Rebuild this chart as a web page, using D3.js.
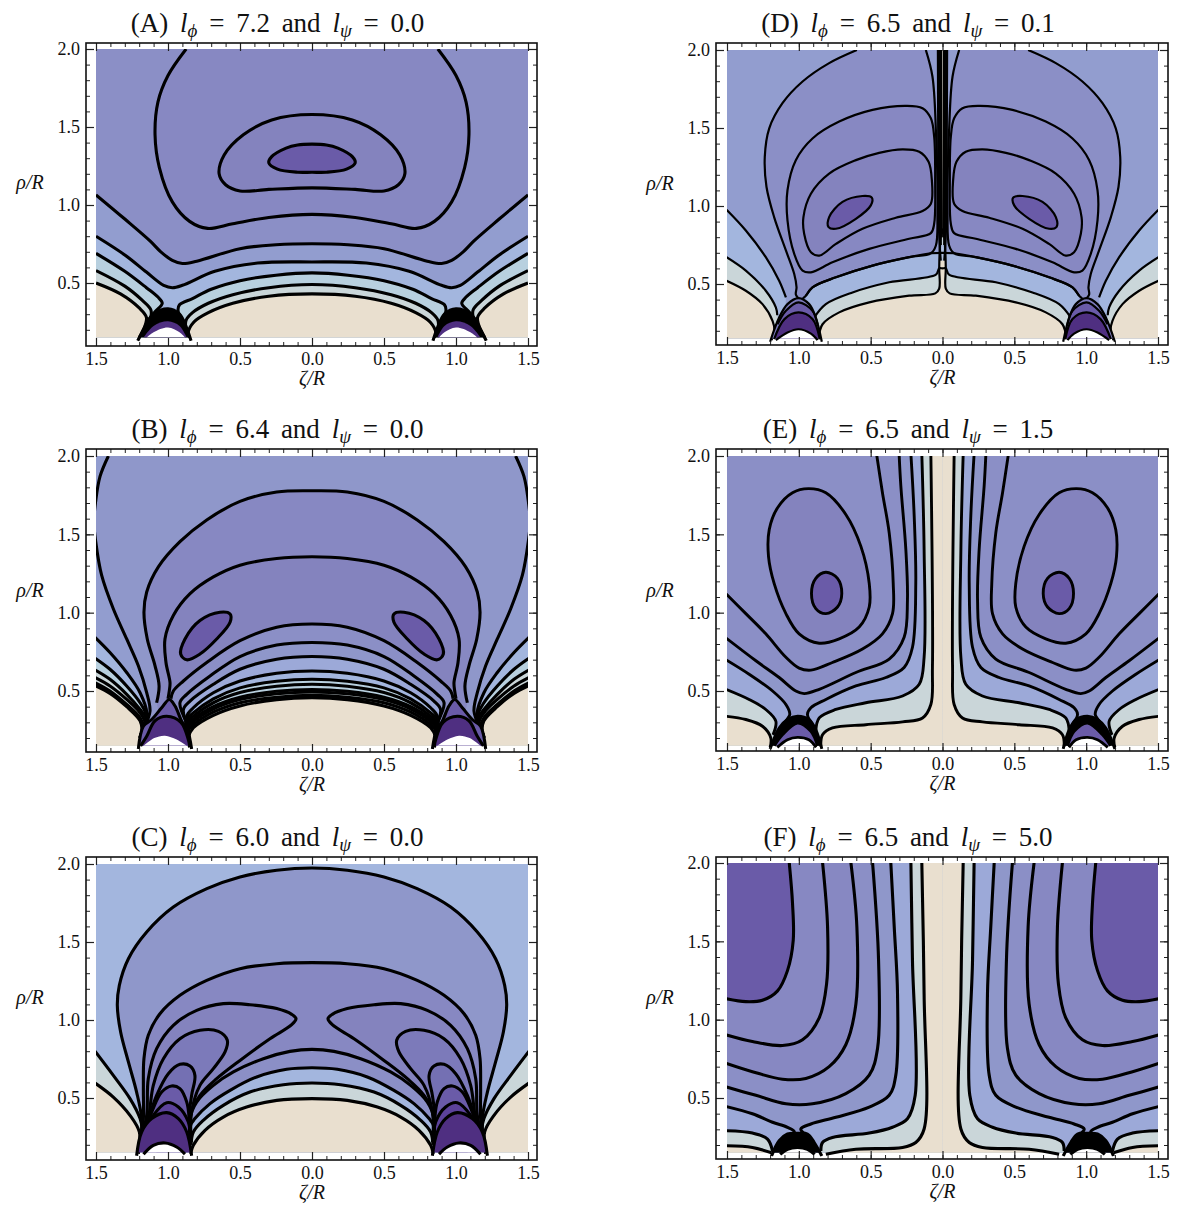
<!DOCTYPE html>
<html>
<head>
<meta charset="utf-8">
<script src="https://cdn.jsdelivr.net/npm/d3@7"></script>
<style>
  html, body { margin: 0; padding: 0; background: #fff; }
  text { font-family: "Liberation Serif", serif; fill: #111; }
</style>
</head>
<body>
<div id="chart"></div>
<script>
// Axis ticks
const xMajor = [-1.5, -1, -0.5, 0, 0.5, 1, 1.5];
const yMajor = [0.5, 1, 1.5, 2];
const xMinor = d3.range(-15, 16).map(d => d / 10);
const yMinor = d3.range(2, 21).map(d => d / 10);

const titleTags = ['(A)', '(B)', '(C)', '(D)', '(E)', '(F)'];
const lPhi = ['7.2', '6.4', '6.0', '6.5', '6.5', '6.5'];
const lPsi = ['0.0', '0.0', '0.0', '0.1', '1.5', '5.0'];

// Band colours, lowest level first (last two are black and the empty hole)
const levelColors = ['#e9dfcf', '#cad6d9', '#b8d0df', '#a3b6de', '#9ca9d8', '#929dcf', '#8f97ca', '#8b8fc6',
  '#8788c2', '#8483be', '#7c7aba', '#7470b3', '#6a5ba8', '#5c429b', '#4f2f81', '#000000', '#ffffff'];

// Fill closures, all for the left half (the right half is mirrored)
const toLeft = [[-1.1, 0.1], [-1.5, 0.1]];
const toCusp = [[-0.9, 0.1]];
const toDome = [[-1.0, 0.1]];
const column = [[0, 2.05], [0, 0.1], [-0.9, 0.1]];
const wholeLow = [[0, 2.05], [0, 0.1], [-1.5, 0.1]];

// Contours: [zeta/R, rho/R], left half
const contoursA = [
  { level: 8, pts: [[-0.874, 2], [-1, 1.83], [-1.07, 1.66], [-1.09, 1.45], [-1.06, 1.24], [-0.97, 1.02], [-0.85, 0.895], [-0.725, 0.85], [-0.55, 0.88], [-0.3, 0.92], [0, 0.94]] },
  { level: 9, pts: [[0, 1.58], [-0.28, 1.545], [-0.477, 1.45], [-0.61, 1.32], [-0.645, 1.2], [-0.6, 1.13], [-0.5, 1.09], [-0.3, 1.1], [0, 1.11]] },
  { level: 12, pts: [[0, 1.39], [-0.1, 1.385], [-0.18, 1.365], [-0.28, 1.31], [-0.3, 1.27], [-0.24, 1.23], [-0.1, 1.21], [0, 1.21]] },
  { level: 5, pts: [[-1.5, 1.065], [-1.3, 0.91], [-1.125, 0.77], [-1.05, 0.7], [-0.97, 0.645], [-0.9, 0.625], [-0.8, 0.64], [-0.5, 0.72], [-0.25, 0.745], [0, 0.752]], close: [[-1.5, 0.1]] },
  { level: 3, pts: [[-1.5, 0.8], [-1.3, 0.68], [-1.15, 0.57], [-1.03, 0.485], [-0.97, 0.47], [-0.9, 0.485], [-0.675, 0.575], [-0.377, 0.628], [0, 0.635]], close: [[-1.5, 0.1]] },
  { level: 2, pts: [[-1.5, 0.69], [-1.3, 0.575], [-1.15, 0.47], [-1.07, 0.41], [-1.04, 0.37], [-1.09, 0.315], [-1.14, 0.26]], close: toLeft },
  { level: 1, pts: [[-1.5, 0.58], [-1.3, 0.48], [-1.18, 0.39], [-1.12, 0.33], [-1.12, 0.28], [-1.16, 0.22]], close: toLeft },
  { level: 0, pts: [[-1.5, 0.5], [-1.33, 0.43], [-1.2, 0.34], [-1.15, 0.28], [-1.17, 0.2], [-1.2, 0.15]], close: toLeft },
  { level: 2, pts: [[0, 0.565], [-0.25, 0.55], [-0.5, 0.515], [-0.7, 0.46], [-0.83, 0.4], [-0.92, 0.36], [-0.93, 0.32], [-0.91, 0.28], [-0.88, 0.24]], close: toCusp },
  { level: 1, pts: [[0, 0.49], [-0.3, 0.47], [-0.55, 0.425], [-0.72, 0.37], [-0.83, 0.31], [-0.875, 0.26], [-0.875, 0.2]], close: toCusp },
  { level: 0, pts: [[0, 0.43], [-0.3, 0.415], [-0.55, 0.37], [-0.72, 0.31], [-0.82, 0.25], [-0.86, 0.18], [-0.85, 0.15]], close: toCusp }
];
const domeA = [
  { level: 15, pts: [[-1.21, 0.13], [-1.16, 0.22], [-1.1, 0.3], [-1, 0.335], [-0.92, 0.3], [-0.87, 0.21], [-0.84, 0.13]] },
  { level: 14, bare: true, pts: [[-1.17, 0.15], [-1.1, 0.225], [-1, 0.255], [-0.92, 0.225], [-0.87, 0.15]] },
  { level: 16, bare: true, pts: [[-1.15, 0.15], [-1.1, 0.185], [-1, 0.215], [-0.92, 0.185], [-0.88, 0.15]] }
];

const contoursB = [
  { level: 6, pts: [[-1.414, 2], [-1.472, 1.87], [-1.502, 1.714], [-1.515, 1.58], [-1.502, 1.453], [-1.461, 1.239], [-1.38, 1.025], [-1.287, 0.832], [-1.206, 0.661], [-1.148, 0.489], [-1.125, 0.372], [-1.16, 0.28]], close: [[-1, 0.1], [0, 0.1], [0, 2.05], [-1.41, 2.05]] },
  { level: 8, pts: [[0, 1.778], [-0.245, 1.77], [-0.5, 1.71], [-0.731, 1.592], [-0.917, 1.453], [-1.067, 1.292], [-1.148, 1.132], [-1.167, 1.003], [-1.144, 0.832], [-1.09, 0.661], [-1.062, 0.532], [-1.079, 0.425]], close: toDome },
  { level: 9, pts: [[0, 1.357], [-0.245, 1.346], [-0.5, 1.303], [-0.685, 1.228], [-0.847, 1.121], [-0.963, 0.982], [-1.021, 0.832], [-1.014, 0.682], [-0.986, 0.554], [-0.991, 0.5], [-1, 0.45]], close: toDome },
  { level: 12, pts: [[-0.639, 1.003], [-0.569, 0.992], [-0.569, 0.939], [-0.662, 0.832], [-0.778, 0.736], [-0.87, 0.699], [-0.912, 0.736], [-0.882, 0.832], [-0.778, 0.95], [-0.639, 1.003]] },
  { level: 7, pts: [[0, 0.928], [-0.245, 0.907], [-0.5, 0.821], [-0.731, 0.682], [-0.893, 0.564], [-0.963, 0.5], [-0.98, 0.45]], close: toCusp },
  { level: 6, pts: [[0, 0.81], [-0.245, 0.793], [-0.5, 0.72], [-0.708, 0.596], [-0.87, 0.479], [-0.917, 0.425], [-0.87, 0.3]], close: toCusp },
  { level: 4, pts: [[0, 0.72], [-0.245, 0.703], [-0.5, 0.639], [-0.685, 0.543], [-0.847, 0.436], [-0.893, 0.382], [-0.86, 0.27]], close: toCusp },
  { level: 3, pts: [[0, 0.628], [-0.245, 0.613], [-0.5, 0.564], [-0.685, 0.489], [-0.824, 0.393], [-0.87, 0.339], [-0.85, 0.23]], close: toCusp },
  { level: 2, pts: [[0, 0.575], [-0.245, 0.562], [-0.5, 0.52], [-0.685, 0.45], [-0.824, 0.36], [-0.875, 0.31], [-0.85, 0.22]], close: toCusp },
  { level: 2, pts: [[0, 0.543], [-0.245, 0.53], [-0.5, 0.49], [-0.685, 0.425], [-0.824, 0.34], [-0.875, 0.29], [-0.85, 0.22]], close: toCusp },
  { level: 1, pts: [[0, 0.51], [-0.245, 0.498], [-0.5, 0.46], [-0.685, 0.4], [-0.824, 0.32], [-0.875, 0.27], [-0.85, 0.2]], close: toCusp },
  { level: 1, pts: [[0, 0.494], [-0.245, 0.482], [-0.5, 0.445], [-0.685, 0.385], [-0.824, 0.305], [-0.875, 0.25], [-0.85, 0.2]], close: toCusp },
  { level: 1, pts: [[0, 0.472], [-0.245, 0.46], [-0.5, 0.425], [-0.685, 0.365], [-0.824, 0.285], [-0.875, 0.23], [-0.85, 0.18]], close: toCusp },
  { level: 0, pts: [[0, 0.457], [-0.245, 0.445], [-0.5, 0.405], [-0.685, 0.345], [-0.824, 0.265], [-0.86, 0.2], [-0.85, 0.14]], close: toCusp },
  { level: 3, pts: [[-1.507, 0.843], [-1.403, 0.746], [-1.287, 0.618], [-1.194, 0.489], [-1.148, 0.361], [-1.18, 0.25]], close: toLeft },
  { level: 2, pts: [[-1.507, 0.71], [-1.403, 0.639], [-1.287, 0.532], [-1.194, 0.425], [-1.15, 0.34], [-1.18, 0.25]], close: toLeft },
  { level: 1, pts: [[-1.507, 0.635], [-1.403, 0.575], [-1.287, 0.479], [-1.194, 0.382], [-1.15, 0.32], [-1.19, 0.22]], close: toLeft },
  { level: 1, pts: [[-1.507, 0.586], [-1.403, 0.532], [-1.287, 0.446], [-1.194, 0.361], [-1.16, 0.3], [-1.19, 0.22]], close: toLeft },
  { level: 1, pts: [[-1.507, 0.553], [-1.403, 0.5], [-1.287, 0.414], [-1.194, 0.329], [-1.17, 0.26], [-1.2, 0.2]], close: toLeft },
  { level: 0, pts: [[-1.507, 0.535], [-1.403, 0.485], [-1.287, 0.4], [-1.194, 0.31], [-1.18, 0.25], [-1.2, 0.15]], close: toLeft }
];
const domeB = [
  { level: 12, pts: [[-1.206, 0.13], [-1.171, 0.275], [-1.113, 0.318], [-1.044, 0.393], [-0.991, 0.446], [-0.951, 0.404], [-0.905, 0.307], [-0.866, 0.254], [-0.836, 0.13]] },
  { level: 14, pts: [[-1.19, 0.15], [-1.148, 0.211], [-1.09, 0.31], [-1.009, 0.339], [-0.91, 0.3], [-0.859, 0.19], [-0.85, 0.15]] },
  { level: 16, bare: true, pts: [[-1.17, 0.15], [-1.095, 0.2], [-1.021, 0.215], [-0.94, 0.19], [-0.87, 0.15]] }
];

const contoursC = [
  { level: 6, pts: [[0, 1.974], [-0.245, 1.96], [-0.5, 1.917], [-0.73, 1.842], [-0.963, 1.724], [-1.148, 1.564], [-1.275, 1.393], [-1.338, 1.222], [-1.352, 1.094], [-1.329, 0.923], [-1.275, 0.731], [-1.218, 0.538], [-1.183, 0.368], [-1.19, 0.22]], close: toDome },
  { level: 8, pts: [[0, 1.368], [-0.245, 1.361], [-0.5, 1.329], [-0.731, 1.254], [-0.917, 1.158], [-1.056, 1.04], [-1.137, 0.902], [-1.167, 0.752], [-1.171, 0.56], [-1.171, 0.368], [-1.19, 0.22]], close: toDome },
  { level: 7, pts: [[0, 0.812], [-0.153, 0.799], [-0.338, 0.752], [-0.546, 0.667], [-0.685, 0.581], [-0.801, 0.474], [-0.847, 0.368], [-0.84, 0.22]], close: toCusp },
  { level: 3, pts: [[0, 0.694], [-0.176, 0.684], [-0.384, 0.635], [-0.569, 0.549], [-0.708, 0.464], [-0.813, 0.368], [-0.843, 0.325], [-0.84, 0.22]], close: toCusp },
  { level: 1, pts: [[0, 0.596], [-0.199, 0.585], [-0.431, 0.538], [-0.616, 0.453], [-0.755, 0.357], [-0.824, 0.282], [-0.84, 0.2]], close: toCusp },
  { level: 0, pts: [[0, 0.496], [-0.245, 0.485], [-0.454, 0.442], [-0.616, 0.378], [-0.743, 0.293], [-0.824, 0.197], [-0.843, 0.143]], close: toCusp },
  { level: 1, pts: [[-1.507, 0.8], [-1.38, 0.645], [-1.264, 0.496], [-1.194, 0.368], [-1.18, 0.3], [-1.2, 0.2]], close: toLeft },
  { level: 0, pts: [[-1.507, 0.596], [-1.38, 0.506], [-1.264, 0.389], [-1.199, 0.282], [-1.206, 0.143]], close: toLeft },
  { level: 9, pts: [[-1.19, 0.22], [-1.148, 0.389], [-1.137, 0.624], [-1.079, 0.816], [-0.963, 0.966], [-0.801, 1.062], [-0.616, 1.105], [-0.431, 1.098], [-0.245, 1.073], [-0.141, 1.036], [-0.111, 1.009], [-0.141, 0.97], [-0.292, 0.88], [-0.5, 0.741], [-0.662, 0.624], [-0.778, 0.517], [-0.847, 0.389], [-0.84, 0.22]] },
  { level: 10, pts: [[-1.19, 0.22], [-1.137, 0.368], [-1.102, 0.581], [-1.032, 0.752], [-0.917, 0.88], [-0.778, 0.934], [-0.65, 0.927], [-0.588, 0.87], [-0.604, 0.795], [-0.685, 0.688], [-0.778, 0.581], [-0.836, 0.41], [-0.84, 0.22]] },
  { level: 11, pts: [[-1.19, 0.22], [-1.13, 0.38], [-1.079, 0.517], [-0.998, 0.656], [-0.917, 0.716], [-0.847, 0.705], [-0.813, 0.645], [-0.836, 0.517], [-0.852, 0.39], [-0.84, 0.22]] },
  { level: 12, pts: [[-1.19, 0.22], [-1.113, 0.41], [-1.044, 0.538], [-0.975, 0.577], [-0.917, 0.56], [-0.87, 0.474], [-0.852, 0.368], [-0.84, 0.22]] },
  { level: 13, pts: [[-1.19, 0.22], [-1.102, 0.389], [-1.009, 0.47], [-0.928, 0.442], [-0.859, 0.346], [-0.84, 0.22]] }
];
const domeC = [
  { level: 14, pts: [[-1.218, 0.13], [-1.183, 0.282], [-1.113, 0.368], [-1.009, 0.406], [-0.928, 0.368], [-0.87, 0.282], [-0.836, 0.13]] },
  { level: 16, pts: [[-1.17, 0.14], [-1.102, 0.197], [-1.02, 0.212], [-0.94, 0.186], [-0.882, 0.14]] }
];

const contoursD = [
  { level: 7, pts: [[-0.596, 2], [-0.789, 1.916], [-0.974, 1.798], [-1.114, 1.659], [-1.206, 1.498], [-1.237, 1.315], [-1.225, 1.122], [-1.172, 0.929], [-1.09, 0.715], [-1.032, 0.564], [-1.016, 0.479], [-1.02, 0.43], [-0.985, 0.4], [-0.951, 0.425], [-0.905, 0.479], [-0.742, 0.543], [-0.487, 0.618], [-0.232, 0.672], [-0.081, 0.697], [-0.046, 0.747], [-0.035, 0.951], [-0.046, 1.487], [-0.07, 1.83], [-0.116, 2]] },
  { level: 8, pts: [[-0.255, 1.642], [-0.139, 1.627], [-0.081, 1.562], [-0.058, 1.444], [-0.051, 1.165], [-0.058, 0.886], [-0.081, 0.826], [-0.232, 0.79], [-0.51, 0.725], [-0.766, 0.639], [-0.916, 0.575], [-0.974, 0.586], [-1.032, 0.693], [-1.079, 0.908], [-1.079, 1.101], [-1.021, 1.294], [-0.905, 1.433], [-0.719, 1.541], [-0.487, 1.616], [-0.255, 1.642]] },
  { level: 9, pts: [[-0.278, 1.363], [-0.162, 1.348], [-0.097, 1.283], [-0.074, 1.165], [-0.081, 1.015], [-0.139, 0.968], [-0.325, 0.925], [-0.557, 0.854], [-0.742, 0.757], [-0.858, 0.682], [-0.916, 0.704], [-0.963, 0.822], [-0.968, 0.929], [-0.916, 1.079], [-0.789, 1.208], [-0.603, 1.294], [-0.441, 1.341], [-0.278, 1.363]] },
  { level: 12, pts: [[-0.557, 1.064], [-0.492, 1.054], [-0.499, 1.004], [-0.603, 0.918], [-0.742, 0.854], [-0.793, 0.865], [-0.789, 0.929], [-0.696, 1.026], [-0.557, 1.064]] },
  { level: 3, pts: [[-1.503, 0.976], [-1.369, 0.843], [-1.23, 0.672], [-1.137, 0.521], [-1.09, 0.414]], close: toLeft },
  { level: 3, pts: [[0, 0.7], [-0.081, 0.697], [-0.232, 0.672], [-0.487, 0.618], [-0.742, 0.543], [-0.905, 0.479], [-0.951, 0.425]], close: toCusp },
  { level: 1, pts: [[-1.503, 0.672], [-1.369, 0.586], [-1.23, 0.457], [-1.16, 0.35], [-1.15, 0.3]], close: toLeft },
  { level: 1, pts: [[0, 0.6], [-0.023, 0.6], [-0.046, 0.56], [-0.371, 0.511], [-0.626, 0.446], [-0.812, 0.371], [-0.893, 0.285]], close: toCusp },
  { level: 0, pts: [[-1.503, 0.521], [-1.369, 0.457], [-1.253, 0.371], [-1.183, 0.264], [-1.17, 0.2], [-1.19, 0.14]], close: toLeft },
  { level: 0, pts: [[-0.863, 0.146], [-0.835, 0.242], [-0.719, 0.318], [-0.51, 0.382], [-0.232, 0.425], [-0.05, 0.44], [-0.023, 0.47], [-0.023, 0.6], [-0.02, 0.7], [-0.012, 0.8], [0, 0.85]], close: toCusp },
  { level: 3, pts: [[-0.032, 2], [-0.03, 1.5], [-0.028, 1], [-0.02, 0.75], [-0.012, 0.65]], close: [[0, 0.65], [0, 2.05]] },
  { level: 1, pts: [[-0.02, 2], [-0.018, 1.5], [-0.018, 1], [-0.012, 0.75]], close: [[0, 0.75], [0, 2.05]] },
  { level: 0, pts: [[-0.01, 2], [-0.009, 1.5], [-0.008, 1.24], [-0.006, 0.8]], close: [[0, 0.8], [0, 2.05]] }
];
const domeD = [
  { level: 10, pts: [[-1.2, 0.13], [-1.137, 0.285], [-1.079, 0.371], [-1.002, 0.41], [-0.928, 0.371], [-0.882, 0.285], [-0.84, 0.13]] },
  { level: 12, pts: [[-1.148, 0.242], [-1.09, 0.328], [-1.002, 0.382], [-0.905, 0.328], [-0.87, 0.242]] },
  { level: 14, pts: [[-1.172, 0.146], [-1.1, 0.275], [-1.002, 0.318], [-0.905, 0.275], [-0.854, 0.146]] },
  { level: 16, pts: [[-1.16, 0.14], [-1.079, 0.189], [-1.002, 0.21], [-0.916, 0.182], [-0.87, 0.14]] }
];

const contoursE = [
  { level: 7, pts: [[-1.508, 1.122], [-1.369, 0.994], [-1.23, 0.865], [-1.09, 0.715], [-0.998, 0.646], [-0.916, 0.633], [-0.766, 0.682], [-0.557, 0.768], [-0.418, 0.865], [-0.348, 0.994], [-0.343, 1.187], [-0.371, 1.509], [-0.418, 1.766], [-0.459, 2.013]], close: wholeLow },
  { level: 9, pts: [[-0.933, 1.792], [-1.044, 1.766], [-1.148, 1.67], [-1.206, 1.53], [-1.211, 1.358], [-1.172, 1.187], [-1.09, 0.994], [-0.998, 0.865], [-0.858, 0.805], [-0.719, 0.833], [-0.58, 0.908], [-0.51, 1.036], [-0.51, 1.187], [-0.568, 1.423], [-0.673, 1.627], [-0.812, 1.766], [-0.933, 1.792]] },
  { level: 12, pts: [[-0.812, 1.258], [-0.731, 1.219], [-0.701, 1.122], [-0.731, 1.036], [-0.812, 0.994], [-0.882, 1.026], [-0.912, 1.122], [-0.882, 1.219], [-0.812, 1.258]] },
  { level: 6, pts: [[-1.508, 0.839], [-1.299, 0.693], [-1.137, 0.586], [-1.021, 0.5], [-0.963, 0.483], [-0.858, 0.511], [-0.603, 0.618], [-0.371, 0.704], [-0.267, 0.843], [-0.244, 1.079], [-0.255, 1.401], [-0.29, 1.809], [-0.302, 2.013]], close: wholeLow },
  { level: 4, pts: [[-1.508, 0.7], [-1.346, 0.607], [-1.183, 0.5], [-1.09, 0.414], [-1.063, 0.35], [-1.09, 0.31], [-1.12, 0.27]], close: toLeft },
  { level: 4, pts: [[-0.9, 0.28], [-0.94, 0.35], [-0.916, 0.393], [-0.812, 0.446], [-0.603, 0.532], [-0.394, 0.586], [-0.267, 0.65], [-0.209, 0.779], [-0.186, 1.187], [-0.197, 1.616], [-0.22, 2.013]], close: column },
  { level: 1, pts: [[-1.508, 0.511], [-1.346, 0.446], [-1.23, 0.382], [-1.16, 0.307], [-1.18, 0.22]], close: toLeft },
  { level: 1, pts: [[-0.882, 0.242], [-0.858, 0.328], [-0.742, 0.382], [-0.534, 0.425], [-0.278, 0.468], [-0.162, 0.543], [-0.128, 0.715], [-0.128, 1.401], [-0.144, 2.013]], close: column },
  { level: 0, pts: [[-1.508, 0.339], [-1.369, 0.318], [-1.253, 0.275], [-1.195, 0.2], [-1.2, 0.14]], close: toLeft },
  { level: 0, pts: [[-0.847, 0.146], [-0.835, 0.221], [-0.766, 0.264], [-0.534, 0.285], [-0.278, 0.303], [-0.139, 0.328], [-0.081, 0.414], [-0.07, 0.65], [-0.081, 2.013]], close: column }
];
const domeE = [
  { level: 15, pts: [[-1.2, 0.13], [-1.137, 0.264], [-1.079, 0.318], [-1.009, 0.339], [-0.93, 0.318], [-0.882, 0.253], [-0.84, 0.13]] },
  { level: 12, pts: [[-1.17, 0.15], [-1.114, 0.22], [-1.009, 0.296], [-0.916, 0.242], [-0.87, 0.15]] },
  { level: 16, pts: [[-1.15, 0.14], [-1.079, 0.189], [-1.009, 0.204], [-0.93, 0.189], [-0.88, 0.14]] }
];

const contoursF = [
  { level: 12, pts: [[-1.067, 2.005], [-1.044, 1.743], [-1.039, 1.506], [-1.079, 1.313], [-1.148, 1.184], [-1.253, 1.124], [-1.369, 1.115], [-1.508, 1.134]], close: [[-1.5, 2.05]] },
  { level: 8, pts: [[-1.508, 0.904], [-1.323, 0.861], [-1.114, 0.835], [-0.974, 0.872], [-0.858, 1.012], [-0.807, 1.227], [-0.8, 1.592], [-0.835, 2.005]], close: wholeLow },
  { level: 7, pts: [[-1.508, 0.722], [-1.323, 0.668], [-1.114, 0.62], [-0.951, 0.625], [-0.789, 0.7], [-0.673, 0.84], [-0.603, 1.098], [-0.596, 1.592], [-0.638, 2.005]], close: wholeLow },
  { level: 6, pts: [[-1.508, 0.571], [-1.299, 0.517], [-1.09, 0.463], [-0.905, 0.463], [-0.673, 0.528], [-0.51, 0.646], [-0.452, 0.818], [-0.445, 1.377], [-0.487, 2.005]], close: wholeLow },
  { level: 4, pts: [[-1.508, 0.446], [-1.323, 0.399], [-1.183, 0.345], [-1.079, 0.313], [-1.032, 0.285], [-1.079, 0.248], [-1.13, 0.19]], close: toLeft },
  { level: 4, pts: [[-0.9, 0.2], [-0.95, 0.26], [-0.986, 0.302], [-0.916, 0.334], [-0.742, 0.377], [-0.51, 0.442], [-0.371, 0.517], [-0.325, 0.646], [-0.313, 1.162], [-0.336, 1.592], [-0.36, 2.005]], close: column },
  { level: 1, pts: [[-1.508, 0.291], [-1.323, 0.276], [-1.218, 0.238], [-1.183, 0.162]], close: toLeft },
  { level: 1, pts: [[-0.847, 0.162], [-0.835, 0.216], [-0.766, 0.248], [-0.51, 0.276], [-0.348, 0.313], [-0.244, 0.367], [-0.19, 0.517], [-0.209, 1.377], [-0.22, 2.005]], close: column },
  { level: 0, pts: [[-1.508, 0.195], [-1.323, 0.184], [-1.19, 0.15]], close: toLeft },
  { level: 0, pts: [[-0.812, 0.141], [-0.603, 0.173], [-0.278, 0.184], [-0.186, 0.216], [-0.128, 0.302], [-0.128, 1.162], [-0.144, 2.005]], close: column }
];
const domeF = [
  { level: 15, pts: [[-1.19, 0.13], [-1.137, 0.227], [-1.079, 0.27], [-1.009, 0.275], [-0.94, 0.27], [-0.893, 0.216], [-0.84, 0.13]] },
  { level: 16, pts: [[-1.13, 0.14], [-1.079, 0.173], [-1.009, 0.184], [-0.94, 0.173], [-0.89, 0.14]] }
];

const panelContours = [contoursA, contoursB, contoursC, contoursD, contoursE, contoursF];
const panelDomes = [domeA, domeB, domeC, domeD, domeE, domeF];
const panelBase = [7, 5, 3, 5, 7, 8];

// Layout in pixels: tick positions of zeta = +-1.5, rho = 2 and 0.5, frame box
const layout = [
  { x0: 96, x1: 528, y2: 49, y05: 283, left: 86, right: 537, top: 43, bottom: 346, sw: 3.1 },
  { x0: 96, x1: 528, y2: 456, y05: 691, left: 86, right: 537, top: 449, bottom: 752, sw: 3.1 },
  { x0: 96, x1: 528, y2: 864, y05: 1098, left: 86, right: 537, top: 857, bottom: 1160, sw: 3.1 },
  { x0: 727, x1: 1158, y2: 50, y05: 284, left: 716, right: 1168, top: 43, bottom: 345, sw: 2.2 },
  { x0: 727, x1: 1158, y2: 456, y05: 691, left: 716, right: 1168, top: 449, bottom: 751, sw: 2.9 },
  { x0: 727, x1: 1158, y2: 863, y05: 1098, left: 716, right: 1168, top: 857, bottom: 1159, sw: 3.1 }
];

const svg = d3.select('#chart').append('svg')
  .attr('width', 1179)
  .attr('height', 1205)
  .style('display', 'block');

const mirror = p => [-p[0], p[1]];

// Turn a left-half contour into full shapes: { line, fillPts, loop }
function expand(contour) {
  const close = contour.close || [];
  const pts = contour.pts[0][0] === 0 && contour.pts[contour.pts.length - 1][0] !== 0
    ? contour.pts.slice().reverse()
    : contour.pts;
  const last = pts[pts.length - 1];
  if (last[0] === 0) {
    const line = pts.concat(pts.slice(0, -1).reverse().map(mirror));
    const fillPts = close.slice().reverse().map(mirror).concat(close);
    return [{ line, fillPts, loop: pts[0][0] === 0 }];
  }
  const loop = pts[0][0] === last[0] && pts[0][1] === last[1];
  return [
    { line: pts, fillPts: close, loop },
    { line: pts.map(mirror), fillPts: close.map(mirror), loop }
  ];
}

function drawShapes(group, contours, x, y, sw, fillClip, lineClip) {
  const open = d3.line().x(d => x(d[0])).y(d => y(d[1])).curve(d3.curveCatmullRom.alpha(0.5));
  const closed = d3.line().x(d => x(d[0])).y(d => y(d[1])).curve(d3.curveCatmullRomClosed.alpha(0.5));
  const straight = pts => pts.map(d => `L${x(d[0])},${y(d[1])}`).join('');
  const shapes = contours.flatMap(c => expand(c).map(s => ({ ...s, level: c.level, bare: c.bare })));
  const pathOf = s => s.loop ? closed(s.line.slice(0, -1)) : open(s.line);

  group.append('g').attr('clip-path', `url(#${fillClip})`)
    .selectAll('path').data(shapes).enter().append('path')
    .attr('d', s => pathOf(s) + straight(s.fillPts) + 'Z')
    .attr('fill', s => levelColors[s.level])
    .attr('stroke', 'none');

  group.append('g').attr('clip-path', `url(#${lineClip})`)
    .selectAll('path').data(shapes.filter(s => !s.bare)).enter().append('path')
    .attr('d', pathOf)
    .attr('fill', 'none')
    .attr('stroke', '#000')
    .attr('stroke-width', sw)
    .attr('stroke-linejoin', 'round');
}

layout.forEach((box, i) => {
  const x = d3.scaleLinear().domain([-1.5, 1.5]).range([box.x0, box.x1]);
  const y = d3.scaleLinear().domain([0.5, 2]).range([box.y05, box.y2]);
  const g = svg.append('g').attr('class', 'panel');

  const fillClip = `fill-clip-${i}`;
  const lineClip = `line-clip-${i}`;
  g.append('clipPath').attr('id', fillClip).append('rect')
    .attr('x', x(-1.5)).attr('width', x(1.5) - x(-1.5))
    .attr('y', y(2)).attr('height', y(0.15) - y(2));
  g.append('clipPath').attr('id', lineClip).append('rect')
    .attr('x', x(-1.5)).attr('width', x(1.5) - x(-1.5))
    .attr('y', y(2)).attr('height', y(0.125) - y(2));

  // Top band colour first, the contours paint over it
  g.append('rect')
    .attr('x', x(-1.5)).attr('width', x(1.5) - x(-1.5))
    .attr('y', y(2)).attr('height', y(0.15) - y(2))
    .attr('fill', levelColors[panelBase[i]]);

  drawShapes(g.append('g'), panelContours[i], x, y, box.sw, fillClip, lineClip);
  drawShapes(g.append('g'), panelDomes[i], x, y, box.sw, fillClip, lineClip);

  // Frame and ticks on all four sides
  const fmt = d => Math.abs(d).toFixed(1);
  const axes = [
    { gen: d3.axisBottom(x), at: `translate(0,${box.bottom})`, major: xMajor, minor: xMinor, labels: true },
    { gen: d3.axisTop(x), at: `translate(0,${box.top})`, major: xMajor, minor: xMinor, labels: false },
    { gen: d3.axisLeft(y), at: `translate(${box.left},0)`, major: yMajor, minor: yMinor, labels: true },
    { gen: d3.axisRight(y), at: `translate(${box.right},0)`, major: yMajor, minor: yMinor, labels: false }
  ];
  axes.forEach(a => {
    g.append('g').attr('transform', a.at)
      .call(a.gen.tickValues(a.minor).tickSize(-4).tickFormat(''))
      .call(s => s.select('.domain').remove())
      .call(s => s.selectAll('line').attr('stroke', '#222').attr('stroke-width', 1));
    g.append('g').attr('transform', a.at)
      .call(a.gen.tickValues(a.major).tickSize(-8).tickPadding(6).tickFormat(a.labels ? fmt : ''))
      .call(s => s.select('.domain').remove())
      .call(s => s.selectAll('line').attr('stroke', '#222').attr('stroke-width', 1.2))
      .call(s => s.selectAll('text').attr('font-size', 18).attr('font-family', '"Liberation Serif", serif').attr('fill', '#111'));
  });
  g.append('rect')
    .attr('x', box.left).attr('y', box.top)
    .attr('width', box.right - box.left).attr('height', box.bottom - box.top)
    .attr('fill', 'none').attr('stroke', '#111').attr('stroke-width', 1.6);

  // Title with subscripts
  const title = g.append('text')
    .attr('x', (box.left + box.right) / 2 - 34)
    .attr('y', box.top - 11)
    .attr('text-anchor', 'middle')
    .attr('font-size', 27)
    .attr('word-spacing', 5);
  const sub = (text) => title.append('tspan').attr('font-style', 'italic').attr('font-size', 19).attr('dy', 5).text(text);
  title.append('tspan').text(`${titleTags[i]} `);
  title.append('tspan').attr('font-style', 'italic').text('l');
  sub('ϕ');
  title.append('tspan').attr('dy', -5).text(` = ${lPhi[i]} and `);
  title.append('tspan').attr('font-style', 'italic').text('l');
  sub('ψ');
  title.append('tspan').attr('dy', -5).text(` = ${lPsi[i]}`);

  // Axis labels
  g.append('text')
    .attr('x', x(0)).attr('y', box.bottom + 39)
    .attr('text-anchor', 'middle').attr('font-size', 20).attr('font-style', 'italic')
    .text('ζ/R');
  g.append('text')
    .attr('x', box.left - 56).attr('y', y(1.1))
    .attr('text-anchor', 'middle').attr('font-size', 20).attr('font-style', 'italic')
    .text('ρ/R');
});
</script>
</body>
</html>
